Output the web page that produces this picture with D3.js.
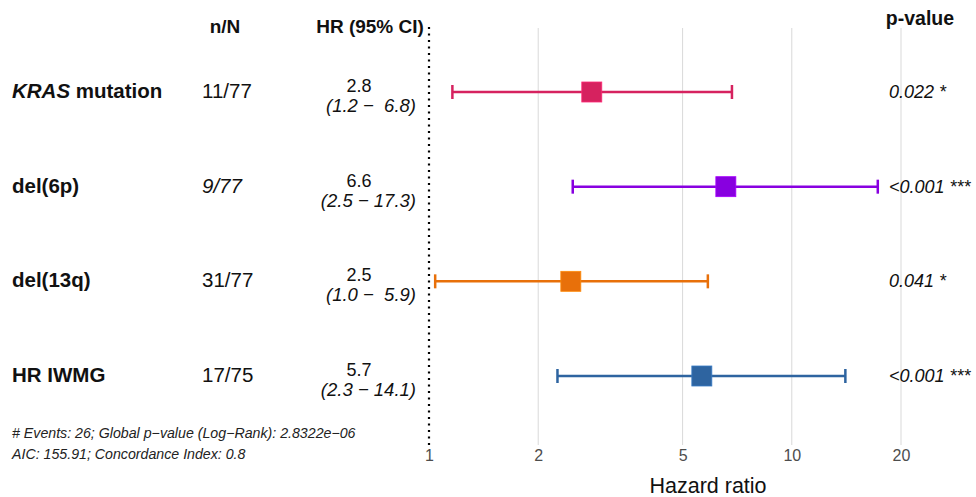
<!DOCTYPE html>
<html>
<head>
<meta charset="utf-8">
<script src="https://cdn.jsdelivr.net/npm/d3@7"></script>
<style>
  html, body { margin: 0; padding: 0; background: #fff; }
  svg { display: block; font-family: "Liberation Sans", Arial, sans-serif; }
</style>
</head>
<body>
<svg id="chart" width="976" height="497"></svg>
<script>
// ---- data ----
const categories = ["KRAS mutation", "del(6p)", "del(13q)", "HR IWMG"];
const nN = ["11/77", "9/77", "31/77", "17/75"];
const hr = [2.81, 6.58, 2.46, 5.65];
const lower = [1.16, 2.49, 1.04, 2.26];
const upper = [6.84, 17.26, 5.87, 14.05];
const hrText = ["2.8", "6.6", "2.5", "5.7"];
const ciText = ["(1.2 \u2212  6.8)", "(2.5 \u2212 17.3)", "(1.0 \u2212  5.9)", "(2.3 \u2212 14.1)"];
const pText = ["0.022 *", "<0.001 ***", "0.041 *", "<0.001 ***"];
const colors = ["#D6225F", "#8800E0", "#E8700A", "#2E64A0"];
const ticks = [1, 2, 5, 10, 20];
const footnotes = ["# Events: 26; Global p\u2212value (Log\u2212Rank): 2.8322e\u221206",
                   "AIC: 155.91; Concordance Index: 0.8"];

// ---- scales ----
const svg = d3.select("#chart");
const x = d3.scaleLog().domain([1, 20]).range([429, 901]);
const y = d3.scalePoint().domain(categories).range([92, 376]);

// gridlines
svg.append("g").selectAll("line").data(ticks.slice(1)).join("line")
  .attr("x1", d => x(d)).attr("x2", d => x(d))
  .attr("y1", 28).attr("y2", 445)
  .attr("stroke", "#d9d9d9").attr("stroke-width", 1);

// reference line at 1
svg.append("line")
  .attr("x1", x(1)).attr("x2", x(1)).attr("y1", 27).attr("y2", 445)
  .attr("stroke", "#000").attr("stroke-width", 2.2)
  .attr("stroke-dasharray", "2,4.5");

// axis
const axis = d3.axisBottom(x).tickValues(ticks).tickFormat(d3.format("d")).tickSize(0).tickPadding(0);
const ax = svg.append("g").attr("transform", "translate(0,446)").call(axis);
ax.select(".domain").remove();
ax.selectAll("text").attr("font-size", 16).attr("fill", "#4d4d4d")
  .attr("font-family", "Liberation Sans, Arial, sans-serif").attr("dy", "0.95em");

svg.append("text").attr("x", 708).attr("y", 493).attr("text-anchor", "middle")
  .attr("font-size", 21.5).attr("fill", "#111").text("Hazard ratio");

// rows
const rows = svg.append("g").selectAll("g").data(categories).join("g")
  .attr("transform", d => `translate(0,${y(d)})`);

rows.append("line")
  .attr("x1", (d, i) => x(lower[i])).attr("x2", (d, i) => x(upper[i]))
  .attr("stroke", (d, i) => colors[i]).attr("stroke-width", 2.5);
rows.append("line")
  .attr("x1", (d, i) => x(lower[i])).attr("x2", (d, i) => x(lower[i]))
  .attr("y1", -7).attr("y2", 7)
  .attr("stroke", (d, i) => colors[i]).attr("stroke-width", 2.5);
rows.append("line")
  .attr("x1", (d, i) => x(upper[i])).attr("x2", (d, i) => x(upper[i]))
  .attr("y1", -7).attr("y2", 7)
  .attr("stroke", (d, i) => colors[i]).attr("stroke-width", 2.5);
rows.append("rect")
  .attr("x", (d, i) => x(hr[i]) - 10).attr("y", -10)
  .attr("width", 20).attr("height", 20)
  .attr("fill", (d, i) => colors[i])
  .attr("stroke", (d, i) => d3.color(colors[i]).brighter(0.6)).attr("stroke-width", 0.8);

// labels
const lab = rows.append("text").attr("x", 12).attr("y", 6)
  .attr("font-size", 20.5).attr("font-weight", "bold").attr("fill", "#111");
lab.each(function(d) {
  const t = d3.select(this);
  if (d.startsWith("KRAS")) {
    t.append("tspan").attr("font-style", "italic").text("KRAS");
    t.append("tspan").text(" mutation");
  } else {
    t.text(d);
  }
});

rows.append("text").attr("x", 202).attr("y", 6)
  .attr("font-size", 20.5).attr("fill", "#111")
  .attr("font-style", (d, i) => i === 1 ? "italic" : "normal")
  .text((d, i) => nN[i]);

rows.append("text").attr("x", 359).attr("y", 0).attr("text-anchor", "middle")
  .attr("font-size", 18).attr("fill", "#111").text((d, i) => hrText[i]);
rows.append("text").attr("x", 416).attr("y", 20).attr("text-anchor", "end")
  .attr("font-size", 18.5).attr("font-style", "italic").attr("fill", "#111")
  .attr("xml:space", "preserve").style("white-space", "pre")
  .text((d, i) => ciText[i]);

rows.append("text").attr("x", 889).attr("y", 6)
  .attr("font-size", 18).attr("font-style", "italic").attr("fill", "#111")
  .text((d, i) => pText[i]);

// headers
svg.append("text").attr("x", 225).attr("y", 33).attr("text-anchor", "middle")
  .attr("font-size", 19).attr("font-weight", "bold").attr("fill", "#111").text("n/N");
svg.append("text").attr("x", 370).attr("y", 33).attr("text-anchor", "middle")
  .attr("font-size", 19).attr("font-weight", "bold").attr("fill", "#111").text("HR (95% CI)");
svg.append("text").attr("x", 920).attr("y", 25).attr("text-anchor", "middle")
  .attr("font-size", 19.5).attr("font-weight", "bold").attr("fill", "#111").text("p-value");

// footnotes
svg.append("g").selectAll("text").data(footnotes).join("text")
  .attr("x", 12).attr("y", (d, i) => 438 + i * 21)
  .attr("font-size", 14.2).attr("font-style", "italic").attr("fill", "#222")
  .text(d => d);
</script>
</body>
</html>
